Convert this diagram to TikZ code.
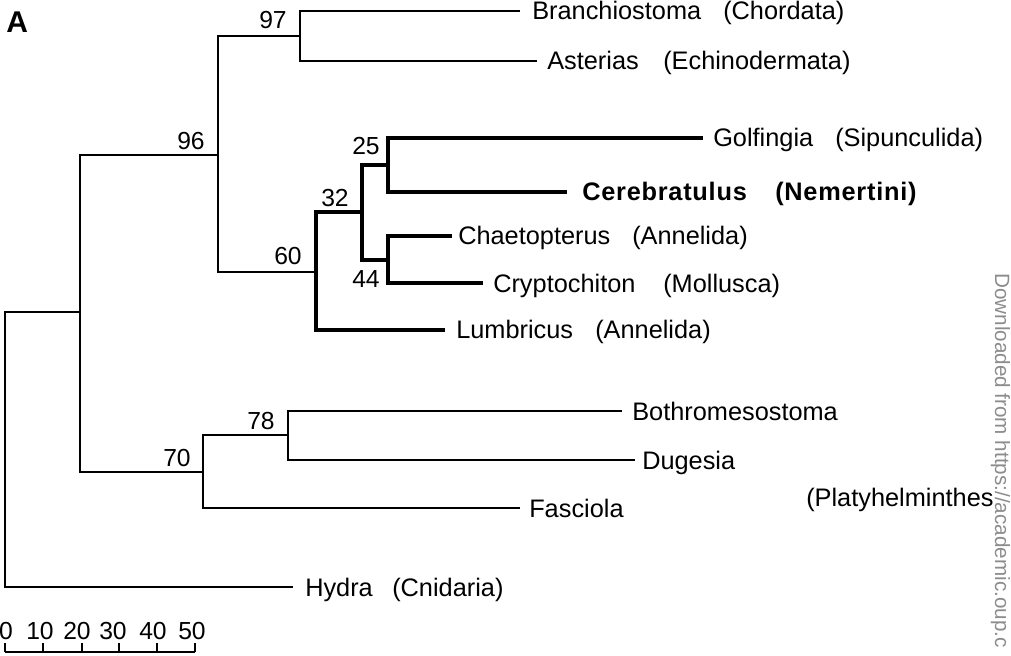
\documentclass[tikz,border=0pt]{standalone}
\usepackage{fontspec}
\setmainfont{Liberation Sans}
\newfontfamily\boldspaced[LetterSpace=3]{Liberation Sans Bold}
\begin{document}
\begin{tikzpicture}[x=0.75pt,y=-0.75pt,
  br/.style={line width=1.9pt, line join=miter},
  thk/.style={line width=2.7pt, line join=miter},
  lab/.style={anchor=base west, inner sep=0pt, font=\fontsize{19}{22}\selectfont},
  num/.style={anchor=base, inner sep=0pt, font=\fontsize{18.5}{22}\selectfont},
  blab/.style={anchor=base west, inner sep=0pt, font=\fontsize{19}{22}\boldspaced},
  wm/.style={anchor=base west, inner sep=0pt, rotate=-90, text=black!45, font=\fontsize{15.5}{18}\selectfont}]
\useasboundingbox (0,0) rectangle (1011,656);
\clip (0,0) rectangle (1011,656);
% panel letter
\node[anchor=base west, inner sep=0pt, font=\fontsize{22.5}{26}\bfseries] (pA) at (6,33) {A};
% internal nodes
\coordinate (root) at (5,312);
\coordinate (n80) at (80,312);
\coordinate (n96) at (218,155);
\coordinate (n97) at (300,36);
\coordinate (n60) at (316,272);
\coordinate (n32) at (362,212);
\coordinate (n25) at (388,165);
\coordinate (n44) at (388,260);
\coordinate (n70) at (203,472);
\coordinate (n78) at (288,435);
% tips
\coordinate (tBra) at (520,11);
\coordinate (tAst) at (537,61);
\coordinate (tGol) at (703,138);
\coordinate (tCer) at (567,192);
\coordinate (tCha) at (452,236);
\coordinate (tCry) at (483,283);
\coordinate (tLum) at (445,330);
\coordinate (tBot) at (622,411);
\coordinate (tDug) at (635,460);
\coordinate (tFas) at (520,508);
\coordinate (tHyd) at (293,587);
% leaf labels
\node[lab] (lBra) at (532,20) {Branchiostoma};
\node[lab] (pBra) at (723,20) {(Chordata)};
\node[lab] (lAst) at (547,70) {Asterias};
\node[lab] (pAst) at (663,70) {(Echinodermata)};
\node[lab] (lGol) at (713,147) {Golfingia};
\node[lab] (pGol) at (835,147) {(Sipunculida)};
\node[blab] (lCer) at (582,201) {Cerebratulus};
\node[blab] (pCer) at (775,201) {(Nemertini)};
\node[lab] (lCha) at (458,245) {Chaetopterus};
\node[lab] (pCha) at (632,245) {(Annelida)};
\node[lab] (lCry) at (493,292) {Cryptochiton};
\node[lab] (pCry) at (663,292) {(Mollusca)};
\node[lab] (lLum) at (456,339) {Lumbricus};
\node[lab] (pLum) at (595,339) {(Annelida)};
\node[lab] (lBot) at (632,420) {Bothromesostoma};
\node[lab] (lDug) at (642,469) {Dugesia};
\node[lab] (lFas) at (529,517) {Fasciola};
\node[lab] (pPla) at (806,506) {(Platyhelminthes};
\node[lab] (lHyd) at (305,596) {Hydra};
\node[lab] (pHyd) at (392,596) {(Cnidaria)};
% bootstrap values
\node[num] (b97) at (273,29) {97};
\node[num] (b96) at (191,150) {96};
\node[num] (b60) at (288,265) {60};
\node[num] (b32) at (335,207) {32};
\node[num] (b25) at (366,155) {25};
\node[num] (b44) at (366,287) {44};
\node[num] (b78) at (261,429) {78};
\node[num] (b70) at (177,466) {70};
% branches
\draw[br] (n80) -- (root) |- (tHyd);
\draw[br] (n96) -| (n80) |- (n70);
\draw[br] (n97) -| (n96) |- (n60);
\draw[br] (tBra) -| (n97) |- (tAst);
\draw[thk] (n32) -| (n60) |- (tLum);
\draw[thk] (n25) -| (n32) |- (n44);
\draw[thk] (tGol) -| (n25) |- (tCer);
\draw[thk] (tCha) -| (n44) |- (tCry);
\draw[br] (n78) -| (n70) |- (tFas);
\draw[br] (tBot) -| (n78) |- (tDug);
% scale bar
\coordinate (s0) at (5,652);
\coordinate (s50) at (195,652);
\draw[br] (s0) -- (s50);
\foreach \i/\xx in {0/5,1/43,2/82,3/119,4/157,5/195}{
  \coordinate (k\i) at (\xx,643);
  \draw[br] (k\i) -- (\xx,652);
}
\foreach \v/\xx in {0/6,10/40,20/77,30/113,40/153,50/192}{
  \node[num] (sl\v) at (\xx,639) {\v};
}
% watermark
\node[wm] (wmk) at (995,273) {Downloaded from https://academic.oup.c};
\end{tikzpicture}
\end{document}
